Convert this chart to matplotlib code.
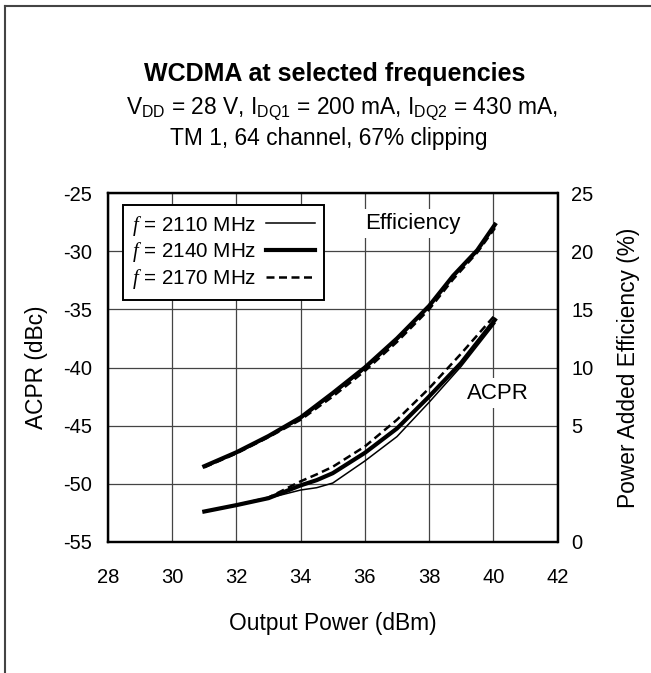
import matplotlib
matplotlib.use("Agg")
import matplotlib.pyplot as plt
from matplotlib.lines import Line2D
from matplotlib.ticker import FixedLocator, FixedFormatter

plt.rcParams['font.family'] = ['Liberation Sans', 'DejaVu Sans']
plt.rcParams['mathtext.fontset'] = 'custom'
plt.rcParams['mathtext.rm'] = 'Liberation Sans'
plt.rcParams['mathtext.it'] = 'Liberation Serif:italic'
plt.rcParams['mathtext.bf'] = 'Liberation Sans:bold'

# ---- data ----
pout_eff = [31, 32, 33, 34, 35, 36, 37, 38, 38.75, 39.5, 40.05]
eff_2110 = [1.4, 2.6, 4.0, 5.6, 7.7, 9.9, 12.4, 15.2, 17.9, 20.0, 22.2]
eff_2140 = [1.5, 2.7, 4.1, 5.7, 7.8, 10.0, 12.5, 15.3, 17.9, 20.1, 22.3]
eff_2170 = [1.4, 2.6, 4.0, 5.5, 7.5, 9.7, 12.2, 15.0, 17.6, 19.9, 22.0]

pout_acpr = [31, 32, 33, 34, 34.5, 35, 36, 37, 38, 39, 40.05]
acpr_2110 = [-52.4, -51.85, -51.25, -50.55, -50.35, -49.95, -48.05, -45.95, -43.0, -39.9, -36.2]
acpr_2140 = [-52.4, -51.85, -51.25, -50.15, -49.7, -49.1, -47.35, -45.25, -42.5, -39.6, -35.9]
acpr_2170 = [-52.4, -51.85, -51.2, -49.8, -49.2, -48.55, -46.8, -44.5, -41.8, -38.8, -35.5]

freq_labels = ['2110', '2140', '2170']
x_ticks = [28, 30, 32, 34, 36, 38, 40, 42]
acpr_ticks = [-55, -50, -45, -40, -35, -30, -25]
pae_tick_pos = [-5, 5, 10, 15, 20, 25]
pae_tick_labels = ['0', '5', '10', '15', '20', '25']

# ---- figure ----
fig = plt.figure(figsize=(6.51, 6.73), dpi=100)
ax = fig.add_axes([108/651, 1-541.7/673, 449.5/651, 348.4/673])
ax2 = ax.twinx()

styles = [dict(lw=1.1, ls='-'), dict(lw=3.0, ls='-'), dict(lw=1.8, ls=(0, (3.2, 1.8)))]

for acpr, st in zip([acpr_2110, acpr_2140, acpr_2170], styles):
    ax.plot(pout_acpr, acpr, color='black', **st)
for eff, st in zip([eff_2110, eff_2140, eff_2170], styles):
    ax2.plot(pout_eff, eff, color='black', **st)

ax.set_xlim(28, 42)
ax.set_ylim(-55, -25)
ax2.set_ylim(-5, 25)
ax.set_xticks(x_ticks)
ax.set_yticks(acpr_ticks)
ax.set_yticklabels([str(t) for t in acpr_ticks])
ax2.yaxis.set_major_locator(FixedLocator(pae_tick_pos))
ax2.yaxis.set_major_formatter(FixedFormatter(pae_tick_labels))

ax.grid(True, color='#444444', lw=0.9)
ax.set_axisbelow(True)
ax.tick_params(axis='x', length=0, pad=19, labelsize=14.5)
ax.tick_params(axis='y', length=0, pad=11.5, labelsize=14.5)
ax2.tick_params(axis='y', length=0, pad=10, labelsize=14.5)
for a in (ax, ax2):
    for s in a.spines.values():
        s.set_linewidth(1.6)
        s.set_color('black')

ax.set_xlabel('Output Power (dBm)', fontsize=16.4, labelpad=18)
ax.set_ylabel('ACPR (dBc)', fontsize=16.4, labelpad=11)
ax2.set_ylabel('Power Added Efficiency (%)', fontsize=16.4, labelpad=17)

# legend
handles = [Line2D([], [], color='black', **st) for st in styles]
labels = [r'$\mathit{f}$ = %s MHz' % f for f in freq_labels]
leg = ax2.legend(handles, labels, loc='upper left', bbox_to_anchor=(15.3/449.5, 1-11.7/348.4),
                 markerfirst=False, fontsize=14.9, handlelength=2.4, handletextpad=0.45,
                 labelspacing=0.13, borderpad=0.42, borderaxespad=0, fancybox=False,
                 framealpha=1, edgecolor='black')
leg.get_frame().set_linewidth(1.4)

ax.text(37.5, -27.6, 'Efficiency', fontsize=16, ha='center', va='center',
        bbox=dict(facecolor='white', edgecolor='none', pad=3), zorder=3)
ax.text(40.15, -42.2, 'ACPR', fontsize=16, ha='center', va='center',
        bbox=dict(facecolor='white', edgecolor='none', pad=3), zorder=3)

# titles
fig.text(335/651, 1-74/673, 'WCDMA at selected frequencies', fontsize=18, fontweight='bold',
         ha='center', va='center')
fig.text(342/651, 1-109/673, r'V$_{\rm DD}$ = 28 V, I$_{\rm DQ1}$ = 200 mA, I$_{\rm DQ2}$ = 430 mA,',
         fontsize=16.4, ha='center', va='center')
fig.text(329/651, 1-139/673, 'TM 1, 64 channel, 67% clipping', fontsize=16.4,
         ha='center', va='center')

# page border
fig.add_artist(Line2D([5/651, 5/651], [0, 1-5.5/673], transform=fig.transFigure, color='#444444', lw=1.5))
fig.add_artist(Line2D([5/651, 1], [1-5.5/673, 1-5.5/673], transform=fig.transFigure, color='#444444', lw=1.5))

fig.savefig('out.png', dpi=100)
